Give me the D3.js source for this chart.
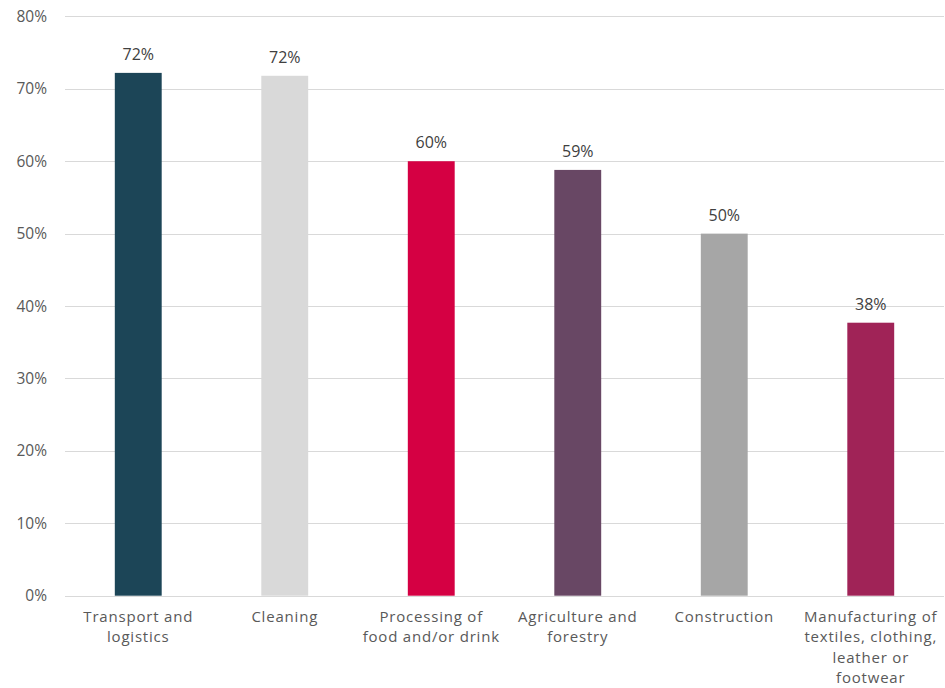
<!DOCTYPE html>
<html><head><meta charset="utf-8">
<script src="https://cdn.jsdelivr.net/npm/d3@7"></script>
<style>body{margin:0;background:#fff}svg{display:block}</style>
</head><body><svg id="c" width="945" height="688"></svg>
<script>
const categories = ["Transport and logistics","Cleaning","Processing of food and/or drink","Agriculture and forestry","Construction","Manufacturing of textiles, clothing, leather or footwear"];
const categoryLines = [["Transport and","logistics"],["Cleaning"],["Processing of","food and/or drink"],["Agriculture and","forestry"],["Construction"],["Manufacturing of","textiles, clothing,","leather or","footwear"]];
const values = [72.2, 71.8, 60.0, 58.8, 50.0, 37.7];
const valueLabels = ["72%","72%","60%","59%","50%","38%"];
const colors = ["#1c4557","#d9d9d9","#d50043","#684764","#a6a6a6","#a02357"];
const yTicks = [0,10,20,30,40,50,60,70,80];

const svg = d3.select("#c");
const x = d3.scaleBand().domain(categories).range([65, 944]).paddingInner(0.68).paddingOuter(0.34);
const y = d3.scaleLinear().domain([0, 80]).range([595.7, 16.4]);

// gridlines
svg.append("g").selectAll("line").data(yTicks).join("line")
  .attr("x1", 65).attr("x2", 944)
  .attr("y1", d => Math.round(y(d)) + 0.5).attr("y2", d => Math.round(y(d)) + 0.5)
  .attr("stroke", "#d9d9d9").attr("stroke-width", 1);

// y axis labels
const yAxis = d3.axisLeft(y).tickValues(yTicks).tickFormat(d => d + "%").tickSize(0).tickPadding(0);
const ga = svg.append("g").attr("transform", "translate(47,0)").call(yAxis);
ga.select(".domain").remove();
ga.selectAll("text").attr("font-family", "'Open Sans', sans-serif").attr("font-size", 15.5).attr("fill", "#595959");

// bars
svg.append("g").selectAll("rect").data(values).join("rect")
  .attr("x", (d, i) => x(categories[i]))
  .attr("width", x.bandwidth())
  .attr("y", d => y(d))
  .attr("height", d => y(0) - y(d))
  .attr("fill", (d, i) => colors[i]);

// value labels
svg.append("g").selectAll("text").data(values).join("text")
  .attr("x", (d, i) => x(categories[i]) + x.bandwidth() / 2)
  .attr("y", d => y(d) - 13)
  .attr("text-anchor", "middle")
  .attr("font-family", "'Open Sans', sans-serif").attr("font-size", 16)
  .attr("fill", "#404040")
  .text((d, i) => valueLabels[i]);

// category labels (one text element per line)
const lineData = [];
categoryLines.forEach((lines, i) => lines.forEach((t, j) => lineData.push({cat: categories[i], t, j})));
svg.append("g").selectAll("text").data(lineData).join("text")
  .attr("x", d => x(d.cat) + x.bandwidth() / 2)
  .attr("y", d => 622 + d.j * 20.3)
  .attr("text-anchor", "middle")
  .attr("font-family", "'Open Sans', sans-serif").attr("font-size", 15)
  .attr("letter-spacing", 0.8)
  .attr("fill", "#595959")
  .text(d => d.t);
</script></body></html>
